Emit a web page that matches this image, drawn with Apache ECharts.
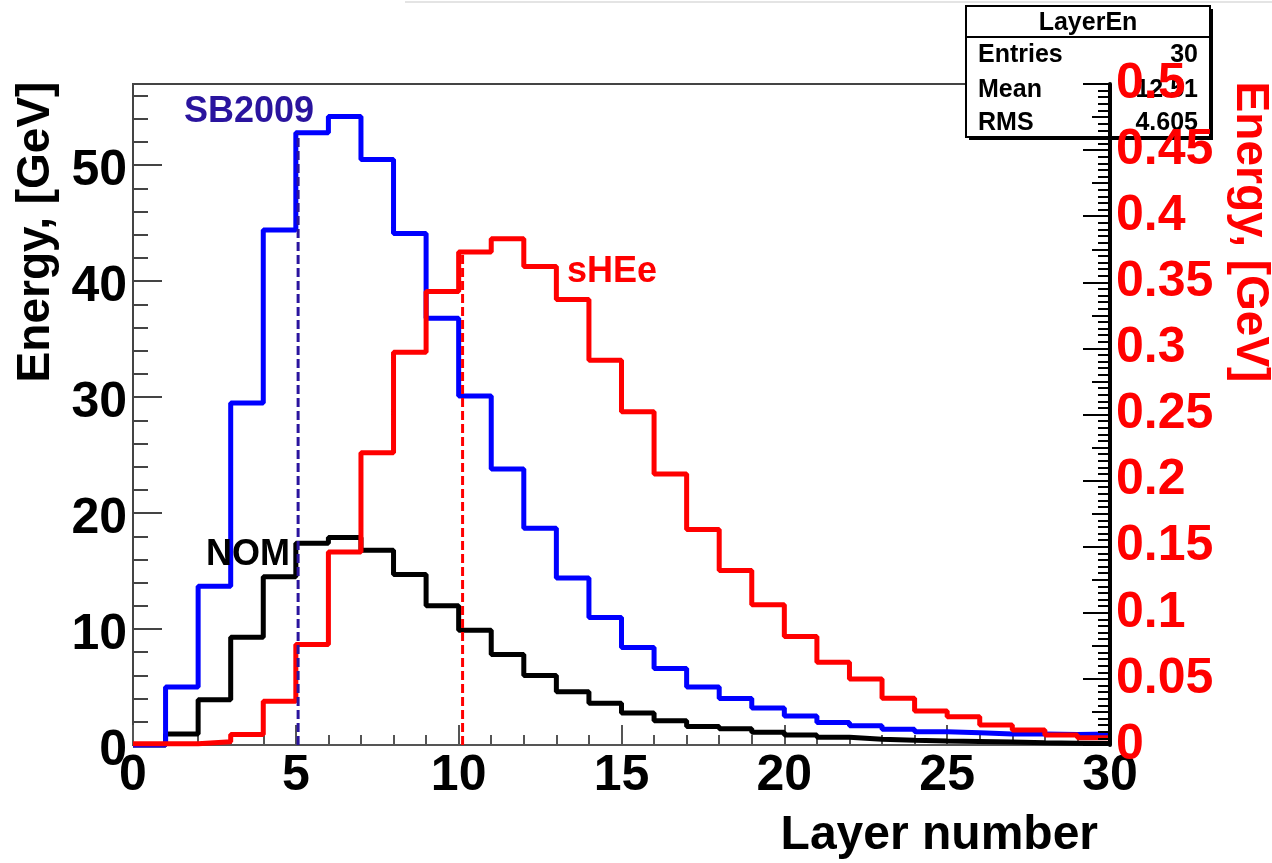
<!DOCTYPE html>
<html><head><meta charset="utf-8">
<script src="https://cdn.jsdelivr.net/npm/echarts@6/dist/echarts.min.js"></script>
<style>html,body{margin:0;padding:0;background:#fff}#c{width:1272px;height:863px}</style>
</head><body><div id="c"></div>
<script>
// ---- data (bin low edges = layer numbers) ----
const layers = [0,1,2,3,4,5,6,7,8,9,10,11,12,13,14,15,16,17,18,19,20,21,22,23,24,25,26,27,28,29];
const binWidth = 1;
// NOM (left axis, GeV)
const nomEnergy = [0,0.95,3.9,9.3,14.5,17.4,17.9,16.8,14.7,12.0,9.9,7.8,6.0,4.6,3.6,2.75,2.1,1.6,1.4,1.1,0.86,0.66,0.5,0.42,0.35,0.3,0.25,0.2,0.16,0.12];
// SB2009 (left axis, GeV)
const sb2009Energy = [0,5.0,13.7,29.5,44.4,52.8,54.2,50.5,44.1,36.8,30.1,23.8,18.7,14.4,11.0,8.4,6.6,5.0,4.0,3.2,2.5,1.95,1.66,1.35,1.15,1.06,0.95,0.95,0.9,0.95];
// sHEe (right axis, GeV)
const sheeEnergy = [0.001,0.001,0.0025,0.008,0.033,0.076,0.146,0.221,0.297,0.343,0.373,0.383,0.362,0.337,0.291,0.252,0.205,0.163,0.132,0.106,0.082,0.0626,0.050,0.0353,0.0257,0.0214,0.0151,0.0113,0.0076,0.0055];
// mean markers (dashed lines)
const meanSB2009 = 5.07;
const meanSHEe = 10.12;
// axis ranges / ticks
const xRange = [0, 30], xStep = 5;
const leftRange = [0, 57], leftStep = 10;
const rightRange = [0, 0.5], rightStep = 0.05;
// stats box
const statsTitle = 'LayerEn';
const statsNames = ['Entries', 'Mean', 'RMS'];
const statsValues = ['30', '12.51', '4.605'];
// series labels [text, x, y, axis, colour]
const seriesLabels = [
  ['SB2009', 3.56, 54.6, 0, '#2a149e'],
  ['NOM', 3.53, 16.35, 0, '#000000'],
  ['sHEe', 14.71, 0.358, 1, '#ff0000']
];

const FONT = '"Liberation Sans", Arial, Helvetica, sans-serif';

function stepData(vals) {
  const d = layers.map((x, i) => [x, vals[i]]);
  d.push([layers[layers.length - 1] + binWidth, vals[vals.length - 1]]);
  return d;
}
function binOf(v) { return Math.floor(v / binWidth); }

const chart = echarts.init(document.getElementById('c'), null, {renderer: 'canvas'});

const baseGraphic = [
  {id:'topline', type:'line', shape:{x1:405,y1:2,x2:1272,y2:2}, style:{stroke:'#e4e4e4', lineWidth:2}, z:1},
  {id:'ytitleL', type:'text', x:36, y:232, rotation:Math.PI/2,
   style:{text:'Energy, [GeV]', font:'bold 46px ' + FONT, fill:'#000', align:'center', verticalAlign:'middle'}},
  {id:'ytitleR', type:'text', x:1250, y:232, rotation:-Math.PI/2,
   style:{text:'Energy, [GeV]', font:'bold 46px ' + FONT, fill:'#ff0000', align:'center', verticalAlign:'middle'}},
  {id:'xtitle', type:'text', x:1098, y:836,
   style:{text:'Layer number', font:'bold 48px ' + FONT, fill:'#000', align:'right', verticalAlign:'middle'}},
  {id:'statsShadow', type:'rect', shape:{x:969,y:9,width:244,height:131}, style:{fill:'#000'}, z:5},
  {id:'statsBox', type:'rect', shape:{x:966,y:6,width:244,height:131}, style:{fill:'#fff', stroke:'#000', lineWidth:2}, z:5},
  {id:'statsDiv', type:'line', shape:{x1:966,y1:37,x2:1210,y2:37}, style:{stroke:'#000', lineWidth:2}, z:5},
  {id:'statsTitle', type:'text', x:1088, y:23, z:6,
   style:{text:statsTitle, font:'bold 25px ' + FONT, fill:'#000', align:'center', verticalAlign:'middle'}}
];
const rowY = [55, 90, 123];
statsNames.forEach((n, i) => {
  baseGraphic.push({id:'sn'+i, type:'text', x:978, y:rowY[i], z:6,
    style:{text:n, font:'bold 25px ' + FONT, fill:'#000', align:'left', verticalAlign:'middle'}});
  baseGraphic.push({id:'sv'+i, type:'text', x:1198, y:rowY[i], z:6,
    style:{text:statsValues[i], font:'bold 25px ' + FONT, fill:'#000', align:'right', verticalAlign:'middle'}});
});

const labelStyle = {fontSize:50, fontWeight:'bold', fontFamily:FONT};

chart.setOption({
  animation:false,
  backgroundColor:'#fff',
  grid:{left:133, right:162, top:84, bottom:118, show:true, borderColor:'#444', borderWidth:2, backgroundColor:'transparent'},
  xAxis:[{
    type:'value', min:xRange[0], max:xRange[1], interval:xStep,
    axisLine:{onZero:false, lineStyle:{color:'#555', width:2}},
    axisTick:{inside:true, length:20, lineStyle:{color:'#555', width:2}},
    minorTick:{show:true, splitNumber:5, length:10, lineStyle:{color:'#555', width:2}},
    splitLine:{show:false}, minorSplitLine:{show:false},
    axisLabel:Object.assign({color:'#000', margin:6}, labelStyle)
  }],
  yAxis:[
    {type:'value', position:'left', min:leftRange[0], max:leftRange[1], interval:leftStep,
     axisLine:{show:true, lineStyle:{color:'#444', width:2}},
     axisTick:{show:true, inside:true, length:29, lineStyle:{color:'#444', width:2}},
     splitLine:{show:false},
     axisLabel:Object.assign({color:'#000', margin:6, showMaxLabel:false, verticalAlign:'top', lineHeight:12}, labelStyle)},
    {type:'value', position:'right', min:rightRange[0], max:rightRange[1], interval:rightStep, z:10,
     axisLine:{show:true, lineStyle:{color:'#000', width:4}},
     axisTick:{show:true, inside:true, length:27, lineStyle:{color:'#000', width:2}},
     minorTick:{show:true, splitNumber:10, length:12, lineStyle:{color:'#000', width:2}},
     splitLine:{show:false}, minorSplitLine:{show:false},
     axisLabel:Object.assign({color:'#ff0000', margin:6,
       formatter:v => String(Math.round(v*1000)/1000)}, labelStyle)},
    {type:'value', position:'left', min:leftRange[0], max:leftRange[1], interval:2,
     axisLine:{show:false}, splitLine:{show:false}, axisLabel:{show:false},
     axisTick:{show:true, inside:true, length:15, lineStyle:{color:'#444', width:2}}},
    {type:'value', position:'right', min:rightRange[0], max:rightRange[1], interval:rightStep/2, z:10,
     axisLine:{show:false}, splitLine:{show:false}, axisLabel:{show:false},
     axisTick:{show:true, inside:true, length:18, lineStyle:{color:'#000', width:2}}}
  ],
  series:[
    {name:'NOM', type:'line', step:'end', yAxisIndex:0, data:stepData(nomEnergy), symbol:'none', clip:false,
     lineStyle:{color:'#000', width:5}},
    {name:'SB2009', type:'line', step:'end', yAxisIndex:0, data:stepData(sb2009Energy), symbol:'none', clip:false,
     lineStyle:{color:'#0000ff', width:5}},
    {name:'sHEe', type:'line', step:'end', yAxisIndex:1, data:stepData(sheeEnergy), symbol:'none', clip:false,
     lineStyle:{color:'#ff0000', width:5}},
    {name:'meanSB', type:'line', yAxisIndex:0, symbol:'none',
     data:[[meanSB2009, 0], [meanSB2009, sb2009Energy[binOf(meanSB2009)]]],
     lineStyle:{color:'#2a149e', width:3, type:[9,4]}},
    {name:'meanSH', type:'line', yAxisIndex:1, symbol:'none',
     data:[[meanSHEe, 0], [meanSHEe, sheeEnergy[binOf(meanSHEe)]]],
     lineStyle:{color:'#ff0000', width:3, type:[9,4]}}
  ],
  graphic:baseGraphic
});

const labelGraphic = seriesLabels.map((l, i) => {
  const p = chart.convertToPixel({xAxisIndex:0, yAxisIndex:l[3]}, [l[1], l[2]]);
  return {id:'sl'+i, type:'text', x:p[0], y:p[1], z:20,
    style:{text:l[0], font:'bold 36px ' + FONT, fill:l[4], align:'center', verticalAlign:'middle'}};
});
chart.setOption({graphic: baseGraphic.concat(labelGraphic)});
</script>
</body></html>
